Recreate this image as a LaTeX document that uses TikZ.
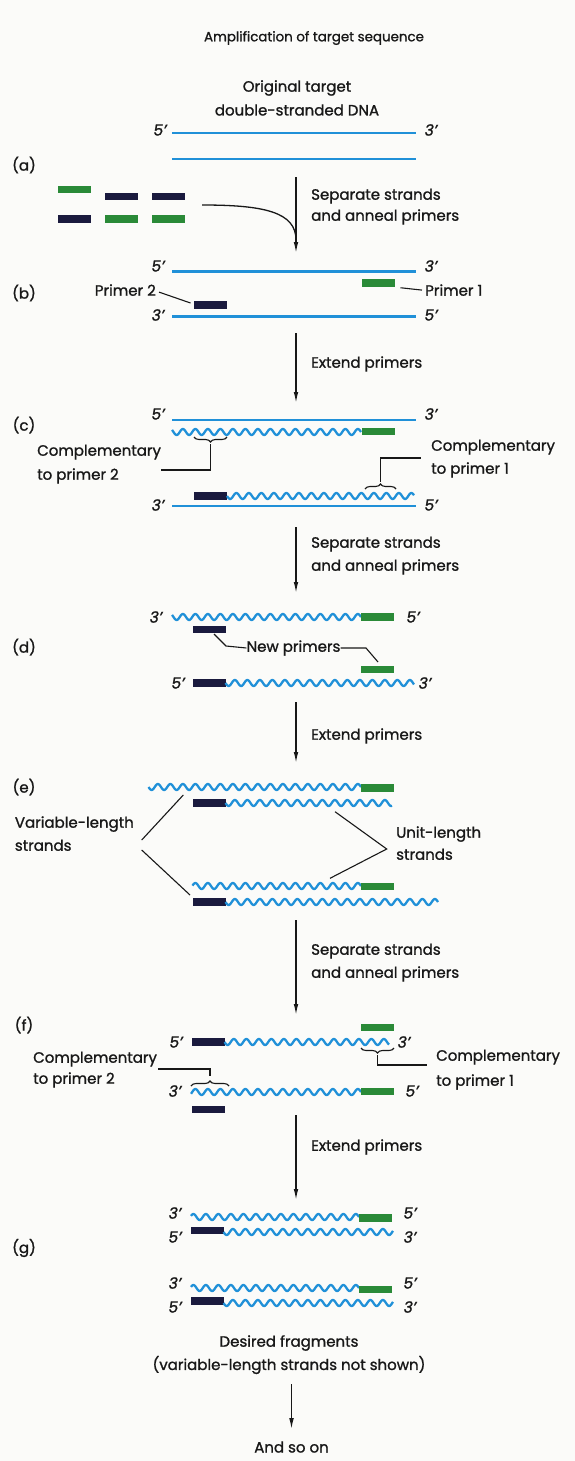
\documentclass[tikz,border=0pt]{standalone}
\usepackage{fontspec}
\setmainfont{Poppins}[FakeBold=1.2]
\usetikzlibrary{arrows.meta,decorations.pathreplacing,calc}

\definecolor{dnablue}{HTML}{2090D8}
\definecolor{pgreen}{HTML}{2A8A38}
\definecolor{pnavy}{HTML}{1A1A3E}
\definecolor{ink}{HTML}{181818}
\definecolor{paper}{HTML}{FBFBF9}

% wavy (newly synthesised) strand: from x=#1 to x=#2 at height #3, phase anchored at x=#4
\newcommand\wv[4]{\draw[wave] plot[domain=#1:#2, samples=320] (\x, {#3 + 3*sin((\x-#4)*28.8)});}

\begin{document}
\begin{tikzpicture}[x=1pt,y=-1pt,
  strand/.style={dnablue, line width=2.7pt},
  wave/.style={dnablue, line width=2.3pt, line join=round},
  primerA/.style={fill=pgreen, minimum width=33pt, minimum height=7.5pt, inner sep=0pt, outer sep=0pt},
  primerB/.style={fill=pnavy, minimum width=33pt, minimum height=7.5pt, inner sep=0pt, outer sep=0pt},
  txt/.style={text=ink, font=\fontsize{15}{21}\selectfont, inner sep=0pt},
  ttl/.style={text=ink, font=\fontsize{13.4}{16}\selectfont, inner sep=0pt},
  endlbl/.style={text=ink, font=\fontsize{15.5}{18}\selectfont\itshape, inner sep=0pt},
  stage/.style={text=ink, font=\fontsize{15}{18}\selectfont, inner sep=0pt},
  flow/.style={ink, line width=1.3pt, -{Latex[length=11pt,width=4.6pt]}},
  leader/.style={ink, line width=1.1pt},
  brc/.style={ink, line width=1.1pt, decorate, decoration={brace, amplitude=5pt}},
]
\fill[paper] (0,0) rectangle (575,1461);
\useasboundingbox (0,0) rectangle (575,1461);

% ---------- title and stage (a)
\node[ttl] (title) at (314,38) {Amplification of target sequence};
\node[txt] (orig1) at (297,88) {Original target};
\node[txt] (orig2) at (297,110) {double-stranded DNA};
\node[stage] (la) at (24,165) {(a)};
\node[endlbl] (a5) at (160,130) {5’};
\node[endlbl] (a3) at (431,130) {3’};
\draw[strand] (172,133) -- (416,133);
\draw[strand] (172,159) -- (416,159);

% pool of free primers
\node[primerA] (pg1) at (74.3,189.5) {};
\node[primerB] (pn1) at (121.5,196.5) {};
\node[primerB] (pn2) at (168.5,196.5) {};
\node[primerB] (pn3) at (74.3,219) {};
\node[primerA] (pg2) at (121.5,219) {};
\node[primerA] (pg3) at (168.5,219) {};
\coordinate (pool) at (202,205);
\coordinate (s1a) at (296,177);
\coordinate (s1b) at (296,253);
\draw[leader, line width=1.3pt] (pool) .. controls (264,205) and (296,212) .. (296,240);
\draw[flow] (s1a) -- (s1b);
\node[txt, anchor=mid west] (sep1a) at (311,197) {Separate strands};
\node[txt, anchor=mid west] (sep1b) at (311,218) {and anneal primers};

% ---------- stage (b)
\node[stage] (lb) at (24,293) {(b)};
\node[endlbl] (b5t) at (158,266) {5’};
\node[endlbl] (b3t) at (431,266) {3’};
\node[endlbl] (b3b) at (158,315) {3’};
\node[endlbl] (b5b) at (431,315) {5’};
\draw[strand] (172,271.7) -- (416,271.7);
\draw[strand] (172,316.7) -- (416,316.7);
\node[primerA] (p1b) at (378,283) {};
\node[primerB] (p2b) at (210,305) {};
\node[txt, anchor=mid east] (t2) at (156,293) {Primer 2};
\node[txt, anchor=mid west] (t1) at (425,293) {Primer 1};
\draw[leader] ($(t2.east)+(3,2)$) -- ($(p2b.west)+(-3,-2)$);
\draw[leader] ($(p1b.south east)+(6,1)$) -- ($(t1.west)+(-3,0)$);
\coordinate (s2a) at (296,333);
\coordinate (s2b) at (296,403);
\draw[flow] (s2a) -- (s2b);
\node[txt, anchor=mid west] (ext1) at (311,365) {Extend primers};

% ---------- stage (c)
\node[stage] (lc) at (24,425) {(c)};
\node[endlbl] (c5t) at (158,414) {5’};
\node[endlbl] (c3t) at (431,414) {3’};
\draw[strand] (172,420) -- (416,420);
\wv{172}{361}{432}{361}
\node[primerA] (p1c) at (378,431.5) {};
\draw[brc] (227,437) -- (194,437);
\coordinate (bc1) at (210.5,444);
\coordinate (bc1k) at (210.5,470);
\node[txt, anchor=mid west] (cp2a) at (37,453) {Complementary};
\node[txt, anchor=mid west] (cp2b) at (37,477) {to primer 2};
\draw[leader] (bc1) -- (bc1k) -- (161,470);
\node[primerB] (p2c) at (210,496) {};
\wv{227}{414}{496}{227}
\node[endlbl] (c3b) at (158,505) {3’};
\node[endlbl] (c5b) at (431,505) {5’};
\draw[strand] (172,506) -- (416,506);
\draw[brc] (365,489) -- (396,489);
\coordinate (bc2) at (380.5,482);
\coordinate (bc2k) at (380.5,458);
\node[txt, anchor=mid west] (cp1a) at (431,448) {Complementary};
\node[txt, anchor=mid west] (cp1b) at (431,471) {to primer 1};
\draw[leader] (bc2) -- (bc2k) -- (421,458);
\coordinate (s3a) at (296,527);
\coordinate (s3b) at (296,593);
\draw[flow] (s3a) -- (s3b);
\node[txt, anchor=mid west] (sep2a) at (311,545) {Separate strands};
\node[txt, anchor=mid west] (sep2b) at (311,568) {and anneal primers};

% ---------- stage (d)
\node[stage] (ld) at (24,647) {(d)};
\node[endlbl] (d3t) at (156,617) {3’};
\wv{172}{361}{617}{361}
\node[primerA] (p1d) at (377.5,617) {};
\node[endlbl] (d5t) at (413,617) {5’};
\node[primerB] (p2d) at (209,629.5) {};
\node[txt] (newp) at (293.5,648) {New primers};
\node[primerA] (p1dn) at (377.5,669.5) {};
\draw[leader] (214,634) -- (226,646) -- (newp.west);
\draw[leader] (newp.east) -- (366,648) -- (378,662);
\node[endlbl] (d5b) at (178,683) {5’};
\node[primerB] (p2dn) at (209,683) {};
\wv{225.5}{414}{683}{225.5}
\node[endlbl] (d3b) at (425,683) {3’};
\coordinate (s4a) at (296,702);
\coordinate (s4b) at (296,763);
\draw[flow] (s4a) -- (s4b);
\node[txt, anchor=mid west] (ext2) at (311,737) {Extend primers};

% ---------- stage (e)
\node[stage] (le) at (24,787) {(e)};
\wv{148.5}{361}{787}{361}
\node[primerA] (e1g) at (377.5,788) {};
\node[primerB] (e2n) at (209,803) {};
\wv{225.5}{392}{803}{225.5}
\wv{192.5}{361}{886}{361}
\node[primerA] (e3g) at (377.5,886.5) {};
\node[primerB] (e4n) at (209,902) {};
\wv{225.5}{438}{902}{225.5}
\node[txt, anchor=mid west] (var1) at (14.7,825) {Variable-length};
\node[txt, anchor=mid west] (var2) at (14.7,848) {strands};
\coordinate (v1) at (183.3,795);
\coordinate (v2) at (190,895);
\draw[leader] (141.7,840) -- (v1);
\draw[leader] (141.7,850) -- (v2);
\node[txt, anchor=mid west] (unit1) at (396,835) {Unit-length};
\node[txt, anchor=mid west] (unit2) at (396,857) {strands};
\coordinate (u0) at (386.7,849);
\coordinate (u1) at (335,811.7);
\coordinate (u2) at (330,878.3);
\draw[leader] (u1) -- (u0) -- (u2);
\coordinate (s5a) at (296,920);
\coordinate (s5b) at (296,1015);
\draw[flow] (s5a) -- (s5b);
\node[txt, anchor=mid west] (sep3a) at (311,952) {Separate strands};
\node[txt, anchor=mid west] (sep3b) at (311,975) {and anneal primers};

% ---------- stage (f)
\node[stage] (lf) at (24,1025) {(f)};
\node[primerA] (f0g) at (377.5,1027.5) {};
\node[endlbl] (f5t) at (176,1042) {5’};
\node[primerB] (f1n) at (208,1042) {};
\wv{224.5}{389}{1042}{224.5}
\node[endlbl] (f3t) at (404,1042) {3’};
\draw[brc] (394,1048) -- (361,1048);
\coordinate (bf1) at (377.5,1055);
\coordinate (bf1k) at (377.5,1065);
\draw[leader] (bf1) -- (bf1k) -- (427,1065);
\node[txt, anchor=mid west] (fc1a) at (436,1058) {Complementary};
\node[txt, anchor=mid west] (fc1b) at (436,1083) {to primer 1};
\node[txt, anchor=mid west] (fc2a) at (33,1060) {Complementary};
\node[txt, anchor=mid west] (fc2b) at (33,1081) {to primer 2};
\coordinate (bf2) at (210,1076);
\coordinate (bf2k) at (210,1069);
\draw[leader] (158,1069) -- (bf2k) -- (bf2);
\draw[brc] (191,1086) -- (229,1086);
\node[endlbl] (f3b) at (175,1091) {3’};
\wv{191}{361}{1092}{361}
\node[primerA] (f2g) at (377.5,1091.5) {};
\node[endlbl] (f5b) at (412,1091) {5’};
\node[primerB] (f3n) at (208,1109.5) {};
\coordinate (s6a) at (296,1115);
\coordinate (s6b) at (296,1200);
\draw[flow] (s6a) -- (s6b);
\node[txt, anchor=mid west] (ext3) at (311,1148) {Extend primers};

% ---------- stage (g)
\node[stage] (lg) at (24,1248) {(g)};
\node[endlbl] (g3a) at (175,1213) {3’};
\wv{191}{359}{1217}{359}
\node[primerA] (g1g) at (375.5,1218) {};
\node[endlbl] (g5a) at (410,1213) {5’};
\node[endlbl] (g5b) at (175,1237) {5’};
\node[primerB] (g2n) at (207,1230.5) {};
\wv{223.5}{393}{1232}{223.5}
\node[endlbl] (g3b) at (410,1237) {3’};
\node[endlbl] (g3c) at (175,1283) {3’};
\wv{191}{359}{1288}{359}
\node[primerA] (g3g) at (375.5,1289.5) {};
\node[endlbl] (g5c) at (410,1283) {5’};
\node[endlbl] (g5d) at (175,1307) {5’};
\node[primerB] (g4n) at (207,1301) {};
\wv{223.5}{393}{1303}{223.5}
\node[endlbl] (g3d) at (410,1307) {3’};
\node[txt] (des1) at (289,1343) {Desired fragments};
\node[txt] (des2) at (289,1365) {(variable-length strands not shown)};
\node[txt] (more) at (291.5,1447) {And so on};
\draw[flow] ($(des2.south)+(2.5,10)$) -- ($(more.north)+(0,-12)$);
\end{tikzpicture}
\end{document}
